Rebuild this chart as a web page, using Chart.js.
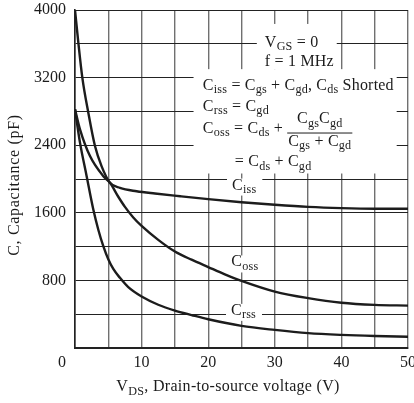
<!DOCTYPE html>
<html>
<head>
<meta charset="utf-8">
<title>Capacitance vs VDS</title>
<script src="https://cdn.jsdelivr.net/npm/chart.js@4.4.1/dist/chart.umd.min.js"></script>
<style>
  html, body { margin: 0; padding: 0; background: #fff; }
  #wrap { width: 414px; height: 403px; position: relative; }
</style>
</head>
<body>
<div id="wrap"><canvas id="chart" width="414" height="403"></canvas></div>
<script>
// Data (V in volts, C in pF)
const cissV = [0, 0.5, 1.1, 2, 3, 4, 5.25, 6.75, 9.25, 12, 15.8, 20, 25, 30, 35, 40, 45, 50];
const cissC = [4000, 3615, 3200, 2785, 2390, 2150, 1955, 1895, 1855, 1828, 1796, 1762, 1725, 1695, 1670, 1655, 1648, 1648];

const cossV = [0, 0.75, 2.25, 4.25, 5.25, 6.5, 7.5, 8.75, 10, 12.5, 15, 17.5, 20, 22.5, 25, 30, 35, 40, 45, 50];
const cossC = [2825, 2588, 2271, 2033, 1955, 1790, 1670, 1545, 1445, 1280, 1142, 1045, 958, 872, 795, 668, 590, 535, 510, 502];

const crssV = [0, 0.75, 1.75, 2.75, 3.5, 4.25, 5, 5.75, 6.75, 8, 10, 12.5, 15, 17.5, 20, 25, 30, 35, 40, 45, 50];
const crssC = [2825, 2430, 2033, 1638, 1400, 1205, 1050, 935, 830, 720, 609, 512, 443, 390, 340, 262, 214, 176, 155, 142, 134];

// Axis ticks
const xTickStep = 5;      // grid every 5 V, label every 10 V
const xLabelStep = 10;
const yTickStep = 400;    // grid every 400 pF, label every 800 pF
const yLabelStep = 800;

const FONT = '"Liberation Serif", "Times New Roman", serif';
const INK = '#1c1c1c';

function parseRich(str) {
  const parts = [];
  const re = /_\{([^}]*)\}/g;
  let last = 0, m;
  while ((m = re.exec(str)) !== null) {
    if (m.index > last) parts.push({ t: str.slice(last, m.index), sub: false });
    parts.push({ t: m[1], sub: true });
    last = re.lastIndex;
  }
  if (last < str.length) parts.push({ t: str.slice(last), sub: false });
  return parts;
}

// Width of text with simple C_{sub} markup
function richWidth(ctx, str, size, spacing) {
  ctx.letterSpacing = (spacing || 0) + 'px';
  const w = parseRich(str).reduce((acc, p) => {
    ctx.font = (p.sub ? size * 0.76 : size) + 'px ' + FONT;
    return acc + ctx.measureText(p.t).width;
  }, 0);
  ctx.letterSpacing = '0px';
  return w;
}

function drawRich(ctx, str, x, y, align, size, spacing) {
  size = size || 16;
  spacing = spacing === undefined ? 0.2 : spacing;
  const w = richWidth(ctx, str, size, spacing);
  let cx = align === 'center' ? x - w / 2 : align === 'right' ? x - w : x;
  ctx.textAlign = 'left';
  ctx.textBaseline = 'alphabetic';
  ctx.fillStyle = INK;
  ctx.letterSpacing = spacing + 'px';
  parseRich(str).forEach(p => {
    ctx.font = (p.sub ? size * 0.76 : size) + 'px ' + FONT;
    ctx.fillText(p.t, cx, p.sub ? y + size * 0.22 : y);
    cx += ctx.measureText(p.t).width;
  });
  ctx.letterSpacing = '0px';
  return w;
}

// White panels behind the annotation text (in data units)
const panels = [
  { v0: 27.3, v1: 39.3, c0: 3300, c1: 3835 },
  { v0: 17.8, v1: 48.3, c0: 2065, c1: 3300 }
];

// Curve labels: [text, V centre, C baseline]
const curveLabels = [
  ['C_{iss}', 25.4, 1875],
  ['C_{oss}', 25.5, 965],
  ['C_{rss}', 25.3, 392]
];

const annotationPlugin = {
  id: 'annotations',
  beforeDatasetsDraw(chart) {
    const { ctx, scales: { x, y } } = chart;
    ctx.save();
    ctx.fillStyle = '#fff';
    panels.forEach(p => {
      const l = x.getPixelForValue(p.v0), r = x.getPixelForValue(p.v1);
      const t = y.getPixelForValue(p.c1), b = y.getPixelForValue(p.c0);
      ctx.fillRect(l, t, r - l, b - t);
    });
    curveLabels.forEach(([txt, v, c]) => {
      const w = richWidth(ctx, txt, 16, 0.2);
      const cx = x.getPixelForValue(v), by = y.getPixelForValue(c);
      ctx.fillRect(cx - w / 2 - 5, by - 11, w + 11, 17);
    });
    ctx.restore();
  },
  afterDatasetsDraw(chart) {
    const { ctx, chartArea, scales: { x, y } } = chart;
    ctx.save();

    // Conditions / equations block
    const left = x.getPixelForValue(19.2);
    drawRich(ctx, 'V_{GS} = 0', left + 62, y.getPixelForValue(3565), 'left');
    drawRich(ctx, 'f = 1 MHz', left + 62, y.getPixelForValue(3340), 'left');
    drawRich(ctx, 'C_{iss} = C_{gs} + C_{gd}, C_{ds} Shorted', left, y.getPixelForValue(3055), 'left');
    drawRich(ctx, 'C_{rss} = C_{gd}', left, y.getPixelForValue(2805), 'left');

    const rowY = y.getPixelForValue(2550);
    const w = drawRich(ctx, 'C_{oss} = C_{ds} + ', left, rowY, 'left');
    const fx = left + w + 1;
    const den = 'C_{gs} + C_{gd}';
    const dw = richWidth(ctx, den, 16, 0.2);
    drawRich(ctx, 'C_{gs}C_{gd}', fx + dw / 2, rowY - 9.5, 'center');
    drawRich(ctx, den, fx, rowY + 13, 'left');
    ctx.strokeStyle = INK;
    ctx.lineWidth = 1;
    ctx.beginPath();
    ctx.moveTo(fx - 1, rowY + 0.5);
    ctx.lineTo(fx + dw + 1, rowY + 0.5);
    ctx.stroke();

    drawRich(ctx, '= C_{ds} + C_{gd}', left + 32, y.getPixelForValue(2150), 'left');

    // Curve names
    curveLabels.forEach(([txt, v, c]) => {
      drawRich(ctx, txt, x.getPixelForValue(v), y.getPixelForValue(c), 'center');
    });

    // Shared origin label
    ctx.font = '16px ' + FONT;
    ctx.fillStyle = INK;
    ctx.textAlign = 'center';
    ctx.fillText('0', chartArea.left - 13, chartArea.bottom + 19);

    // Axis titles
    drawRich(ctx, 'V_{DS}, Drain-to-source voltage (V)', 228, 391, 'center', 16, 0.3);
    ctx.translate(19, 185);
    ctx.rotate(-Math.PI / 2);
    ctx.font = '16px ' + FONT;
    ctx.letterSpacing = '0.7px';
    ctx.textAlign = 'center';
    ctx.fillStyle = INK;
    ctx.fillText('C, Capacitance (pF)', 0, 0);

    ctx.restore();
  }
};

function series(vs, cs) {
  return vs.map((v, i) => ({ x: v, y: cs[i] }));
}

function makeDataset(label, vs, cs) {
  return {
    label,
    data: series(vs, cs),
    borderColor: INK,
    borderWidth: 2.4,
    pointRadius: 0,
    fill: false,
    cubicInterpolationMode: 'monotone'
  };
}

new Chart(document.getElementById('chart'), {
  type: 'line',
  data: {
    datasets: [
      makeDataset('Ciss', cissV, cissC),
      makeDataset('Coss', cossV, cossC),
      makeDataset('Crss', crssV, crssC)
    ]
  },
  options: {
    responsive: false,
    animation: false,
    layout: { padding: { top: 10, right: 6, left: 0, bottom: 0 } },
    plugins: {
      legend: { display: false },
      tooltip: { enabled: false }
    },
    scales: {
      x: {
        type: 'linear',
        min: 0,
        max: 50,
        afterFit: s => { s.height = 55; s.paddingLeft = 0; s.paddingRight = 0; },
        ticks: {
          stepSize: xTickStep,
          autoSkip: false,
          maxRotation: 0,
          padding: 5,
          color: INK,
          font: { family: FONT, size: 16 },
          callback: v => (v !== 0 && v % xLabelStep === 0) ? v : ''
        },
        grid: { color: '#707070', lineWidth: 1.4, drawTicks: false },
        border: { color: '#222', width: 2 }
      },
      y: {
        type: 'linear',
        min: 0,
        max: 4000,
        afterFit: s => { s.width = 75; s.paddingTop = 0; s.paddingBottom = 0; },
        ticks: {
          stepSize: yTickStep,
          autoSkip: false,
          padding: 9,
          color: INK,
          font: { family: FONT, size: 16 },
          callback: v => (v !== 0 && v % yLabelStep === 0) ? v : ''
        },
        grid: { color: '#222', lineWidth: 1, drawTicks: false },
        border: { color: '#222', width: 1.6 }
      }
    }
  },
  plugins: [annotationPlugin]
});
</script>
</body>
</html>
